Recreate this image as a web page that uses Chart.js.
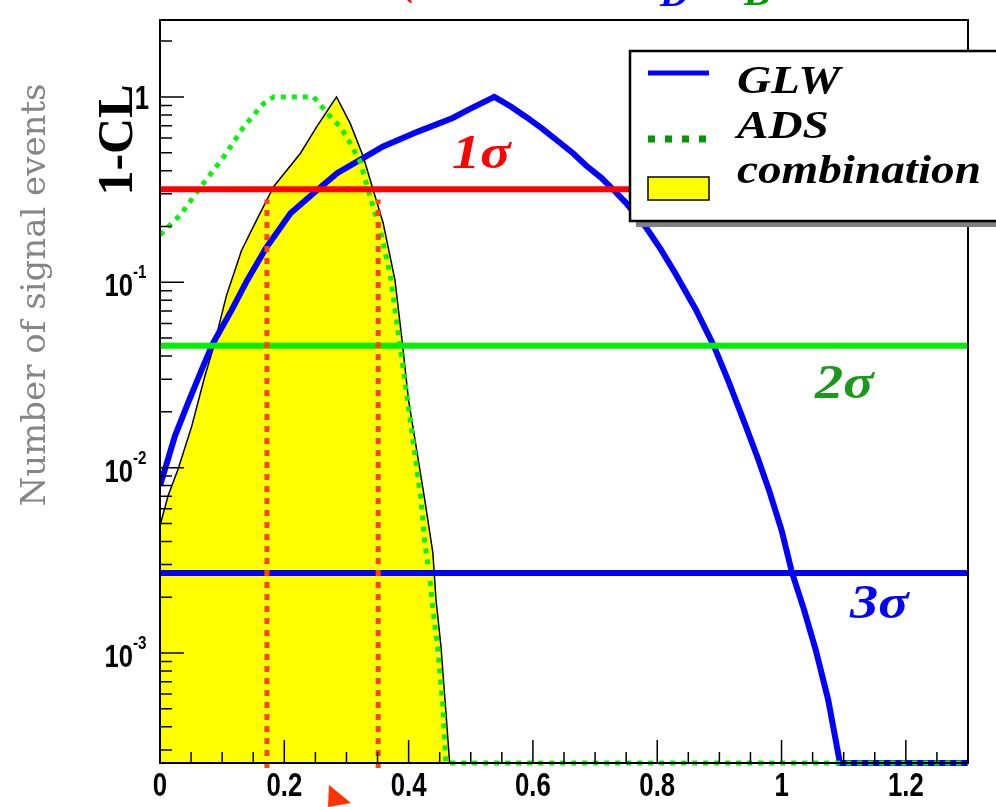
<!DOCTYPE html>
<html>
<head>
<meta charset="utf-8">
<script src="https://cdn.jsdelivr.net/npm/chart.js@4.4.1/dist/chart.umd.min.js"></script>
<style>
  html, body { margin: 0; padding: 0; background: #fff; }
  #wrap { width: 996px; height: 807px; }
</style>
</head>
<body>
<div id="wrap"><canvas id="clChart" width="996" height="807"></canvas></div>
<script>
// 1-CL scans (log scale) for the GLW, ADS and combined analyses
const yFloor = 2.55e-4;

const glwX = [0, 0.024, 0.045, 0.067, 0.085, 0.115, 0.14, 0.17, 0.21, 0.253, 0.285, 0.317, 0.359, 0.415, 0.471, 0.498, 0.538,
              0.565, 0.589, 0.615, 0.642, 0.665, 0.685, 0.71, 0.73, 0.749, 0.781, 0.805, 0.829, 0.862, 0.891, 0.915, 0.942,
              0.962, 0.98, 1.0, 1.017, 1.036, 1.055, 1.075, 1.094, 1.3];
const glwY = [0.008, 0.0148, 0.0223, 0.0337, 0.0467, 0.0705, 0.102, 0.152, 0.236, 0.315, 0.388, 0.448, 0.54, 0.65, 0.77, 0.86, 1.0,
              0.885, 0.78, 0.675, 0.571, 0.495, 0.428, 0.366, 0.314, 0.27, 0.2, 0.152, 0.112, 0.0713, 0.0455, 0.029, 0.0169,
              0.0112, 0.00753, 0.0046, 0.0027, 0.00172, 0.00104, 5.6e-4, 2.55e-4, 2.55e-4];

const adsX = [0, 0.033, 0.066, 0.103, 0.135, 0.167, 0.183, 0.247, 0.274, 0.29, 0.306, 0.322, 0.338, 0.354, 0.37, 0.386, 0.4,
              0.42, 0.426, 0.434, 0.439, 0.447, 0.455, 0.46, 1.3];
const adsY = [0.18, 0.231, 0.329, 0.477, 0.692, 0.924, 1.0, 1.0, 0.783, 0.69, 0.563, 0.448, 0.29, 0.192, 0.112, 0.0455, 0.021,
              0.00672, 0.00393, 0.0026, 0.00172, 0.00105, 5.2e-4, 2.55e-4, 2.55e-4];

const combX = [0, 0.013, 0.029, 0.051, 0.072, 0.087, 0.107, 0.119, 0.131, 0.157, 0.183, 0.226, 0.252, 0.284,
               0.306, 0.327, 0.343, 0.359, 0.378, 0.389, 0.4, 0.426, 0.439, 0.444, 0.452, 0.46, 0.466];
const combY = [0.00487, 0.00705, 0.0098, 0.0167, 0.031, 0.0458, 0.085, 0.112, 0.148, 0.222, 0.329, 0.497, 0.69, 1.0,
               0.72, 0.477, 0.315, 0.209, 0.103, 0.05, 0.023, 0.0067, 0.00347, 0.00195, 0.00109, 4.8e-4, 2.55e-4];

const sigmaLevels = [0.3173, 0.0455, 0.0027];
const sigmaNames = ['1σ', '2σ', '3σ'];
const intervalX = [0.172, 0.351];
const intervalTop = 0.28;

const xTicks = [0, 0.2, 0.4, 0.6, 0.8, 1, 1.2];
const xTickLabels = ['0', '0.2', '0.4', '0.6', '0.8', '1', '1.2'];
const yTicks = [1, 0.1, 0.01, 0.001];
const yTickLabels = [['1', ''], ['10', '-1'], ['10', '-2'], ['10', '-3']];

const toPoints = (xs, ys) => xs.map((x, i) => ({ x: x, y: ys[i] }));

const sigmaColors = ['#ff0000', '#00f000', '#0000ff'];
const sigmaTextColors = ['#ff0000', '#1c991c', '#0000ff'];

const datasets = [
  {
    label: 'combination',
    data: toPoints(combX, combY),
    borderColor: '#000000',
    borderWidth: 1.5,
    backgroundColor: '#ffff00',
    fill: 'start',
    order: 6
  },
  {
    label: 'GLW',
    data: toPoints(glwX, glwY),
    borderColor: '#0000ff',
    borderWidth: 6,
    fill: false,
    clip: { left: 0, top: 0, right: 0, bottom: 4 },
    order: 5
  },
  {
    label: 'ADS',
    data: toPoints(adsX, adsY),
    borderColor: '#11ee11',
    borderWidth: 5,
    borderDash: [5, 6],
    fill: false,
    clip: { left: 0, top: 0, right: 0, bottom: 4 },
    order: 4
  }
];

sigmaLevels.forEach((lvl, i) => {
  datasets.push({
    label: sigmaNames[i],
    data: [{ x: 0, y: lvl }, { x: 1.3, y: lvl }],
    borderColor: sigmaColors[i],
    borderWidth: 6,
    fill: false,
    order: 3
  });
});

intervalX.forEach((x) => {
  datasets.push({
    label: 'interval',
    data: [{ x: x, y: 2.4e-4 }, { x: x, y: intervalTop }],
    borderColor: '#ff4010',
    borderWidth: 5,
    borderDash: [6, 6],
    fill: false,
    clip: false,
    order: 2
  });
});

// draw text squeezed or stretched horizontally
function drawScaledText(ctx, text, x, y, font, color, sx, align) {
  ctx.save();
  ctx.font = font;
  ctx.fillStyle = color;
  ctx.textAlign = 'left';
  ctx.textBaseline = 'alphabetic';
  const w = ctx.measureText(text).width * sx;
  let x0 = x;
  if (align === 'center') x0 = x - w / 2;
  else if (align === 'right') x0 = x - w;
  ctx.translate(x0, y);
  ctx.scale(sx, 1);
  ctx.fillText(text, 0, 0);
  ctx.restore();
  return w;
}

const decorations = {
  id: 'decorations',
  afterDatasetsDraw(chart) {
    const ctx = chart.ctx;
    const xs = chart.scales.x, ys = chart.scales.y;
    const { left, right, top, bottom } = chart.chartArea;

    // frame
    ctx.save();
    ctx.strokeStyle = '#000';
    ctx.lineWidth = 2;
    ctx.strokeRect(left, top, right - left, bottom - top);

    // x ticks, every 0.05, long at 0.2
    ctx.lineWidth = 1.5;
    ctx.beginPath();
    for (let i = 0; i <= 26; i++) {
      const px = xs.getPixelForValue(i * 0.05);
      const len = i % 4 === 0 ? 23 : 11;
      ctx.moveTo(px, bottom);
      ctx.lineTo(px, bottom - len);
    }
    // y ticks on the log axis
    for (let e = -4; e <= 0; e++) {
      for (let m = 1; m <= 9; m++) {
        const v = m * Math.pow(10, e);
        if (v < ys.min || v > ys.max) continue;
        const py = ys.getPixelForValue(v);
        const len = m === 1 ? 24 : 12;
        ctx.moveTo(left, py);
        ctx.lineTo(left + len, py);
      }
    }
    ctx.stroke();
    ctx.restore();

    // tick labels
    const tickFont = 'bold 33px "Liberation Sans"';
    xTicks.forEach((v, i) => {
      drawScaledText(ctx, xTickLabels[i], xs.getPixelForValue(v), bottom + 33, tickFont, '#000', 0.78, 'center');
    });
    yTicks.forEach((v, i) => {
      const py = ys.getPixelForValue(v);
      const [base, sup] = yTickLabels[i];
      if (!sup) {
        drawScaledText(ctx, base, left - 11, py + 12, tickFont, '#000', 0.78, 'right');
      } else {
        drawScaledText(ctx, base, left - 27, py + 14, 'bold 32px "Liberation Sans"', '#000', 0.8, 'right');
        drawScaledText(ctx, sup, left - 27, py - 4, 'bold 19px "Liberation Sans"', '#000', 0.8, 'left');
      }
    });

    // axis titles
    ctx.save();
    ctx.translate(132, 140);
    ctx.rotate(-Math.PI / 2);
    ctx.font = 'bold 50px "Liberation Serif"';
    ctx.fillStyle = '#000';
    ctx.textAlign = 'center';
    ctx.fillText('1-CL', 0, 0);
    ctx.restore();

    ctx.save();
    ctx.translate(45, 295);
    ctx.rotate(-Math.PI / 2);
    ctx.font = '34px "DejaVu Serif"';
    ctx.fillStyle = '#858585';
    ctx.textAlign = 'center';
    ctx.fillText('Number of signal events', 0, 0);
    ctx.restore();

    // sigma labels
    const sigmaFont = 'bold italic 49px "Liberation Serif"';
    const sigmaPos = [[452, 168], [815, 398], [850, 618]];
    sigmaNames.forEach((t, i) => {
      drawScaledText(ctx, t, sigmaPos[i][0], sigmaPos[i][1], sigmaFont, sigmaTextColors[i], 1.15, 'left');
    });

    // legend
    ctx.save();
    ctx.fillStyle = '#808080';
    ctx.fillRect(636, 221, 370, 6);
    ctx.fillStyle = '#fff';
    ctx.fillRect(630, 51, 380, 170);
    ctx.strokeStyle = '#000';
    ctx.lineWidth = 2.5;
    ctx.strokeRect(630, 51, 380, 170);

    ctx.strokeStyle = '#0000ff';
    ctx.lineWidth = 5;
    ctx.beginPath();
    ctx.moveTo(648, 73);
    ctx.lineTo(709, 73);
    ctx.stroke();

    ctx.strokeStyle = '#009a00';
    ctx.lineWidth = 7;
    ctx.setLineDash([7, 10]);
    ctx.beginPath();
    ctx.moveTo(648, 139);
    ctx.lineTo(709, 139);
    ctx.stroke();
    ctx.setLineDash([]);

    ctx.fillStyle = '#ffff00';
    ctx.fillRect(648, 177, 61, 23);
    ctx.strokeStyle = '#000';
    ctx.lineWidth = 1.5;
    ctx.strokeRect(648, 177, 61, 23);
    ctx.restore();

    const legFont = 'bold italic 40px "Liberation Serif"';
    drawScaledText(ctx, 'GLW', 737, 93, legFont, '#000', 1.18, 'left');
    drawScaledText(ctx, 'ADS', 737, 138, legFont, '#000', 1.18, 'left');
    drawScaledText(ctx, 'combination', 737, 183, legFont, '#000', 1.18, 'left');

    // title pieces running off the top edge
    drawScaledText(ctx, '(', 402, -5, 'bold italic 40px "Liberation Serif"', '#ff0000', 1, 'left');
    drawScaledText(ctx, 'D', 660, 6, 'bold italic 40px "Liberation Serif"', '#0000ff', 1, 'left');
    drawScaledText(ctx, 'B', 744, 5, 'bold italic 40px "Liberation Serif"', '#009a00', 1, 'left');

    // arrow head below the axis
    ctx.save();
    ctx.fillStyle = '#ff3300';
    ctx.beginPath();
    ctx.moveTo(329, 785);
    ctx.lineTo(351, 803);
    ctx.lineTo(328, 807);
    ctx.closePath();
    ctx.fill();
    ctx.restore();
  }
};

const clCtx = document.getElementById('clChart').getContext('2d');
const clChart = new Chart(clCtx, {
  type: 'scatter',
  data: { datasets: datasets },
  options: {
    responsive: false,
    animation: false,
    devicePixelRatio: 1,
    layout: {
      padding: { left: 152, top: 20, right: 28, bottom: 36 }
    },
    elements: {
      point: { radius: 0, hoverRadius: 0 },
      line: { tension: 0 }
    },
    datasets: {
      scatter: { showLine: true }
    },
    scales: {
      x: {
        type: 'linear',
        min: 0,
        max: 1.3,
        ticks: { display: false },
        grid: { display: false },
        border: { display: false }
      },
      y: {
        type: 'logarithmic',
        min: yFloor,
        max: 2.6,
        ticks: { display: false },
        grid: { display: false },
        border: { display: false }
      }
    },
    plugins: {
      legend: { display: false },
      tooltip: { enabled: false }
    }
  },
  plugins: [decorations]
});
</script>
</body>
</html>
